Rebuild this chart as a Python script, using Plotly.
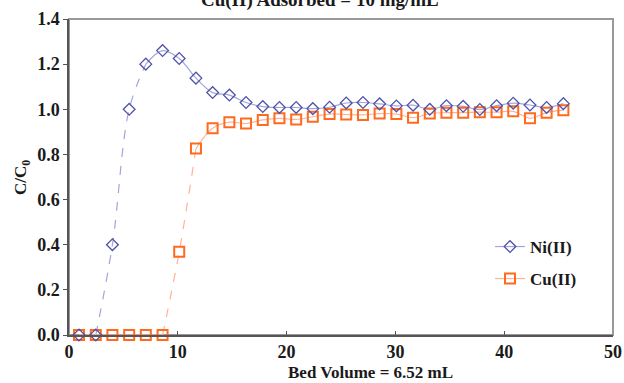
import plotly.graph_objects as go

bed_volume = [0.92, 2.46, 3.99, 5.53, 7.06, 8.60, 10.13, 11.67, 13.20, 14.74,
              16.27, 17.81, 19.34, 20.88, 22.41, 23.95, 25.48, 27.02, 28.55, 30.09,
              31.62, 33.16, 34.69, 36.23, 37.76, 39.30, 40.83, 42.37, 43.90, 45.44]
ni = [0.0, 0.0, 0.40, 1.00, 1.20, 1.26, 1.225, 1.138, 1.074, 1.063,
      1.030, 1.012, 1.008, 1.008, 1.003, 1.009, 1.028, 1.030, 1.024, 1.015,
      1.018, 1.000, 1.016, 1.013, 0.999, 1.016, 1.027, 1.019, 1.008, 1.025]
cu = [0.0, 0.0, 0.0, 0.0, 0.0, 0.0, 0.369, 0.826, 0.916, 0.943,
      0.937, 0.953, 0.960, 0.955, 0.967, 0.979, 0.977, 0.975, 0.981, 0.979,
      0.963, 0.981, 0.985, 0.985, 0.987, 0.987, 0.991, 0.960, 0.985, 0.996]
x_ticks = [0, 10, 20, 30, 40, 50]
y_ticks = [0.0, 0.2, 0.4, 0.6, 0.8, 1.0, 1.2, 1.4]

NI_M, NI_L = "#4f52a8", "#a3a5d9"
CU_M, CU_L = "#ff6a1f", "#ffb396"
FONT = "Liberation Serif"
TXT = "#1a1a1a"

fig = go.Figure()

def seg(x, y, a, b, color, dash):
    fig.add_trace(go.Scatter(x=x[a:b + 1], y=y[a:b + 1], mode="lines",
                             line=dict(color=color, width=1.2, shape="spline", dash=dash),
                             showlegend=False, hoverinfo="skip", cliponaxis=False))

# Ni(II) line segments
seg(bed_volume, ni, 0, 1, NI_L, "solid")
seg(bed_volume, ni, 1, 4, NI_L, "dash")
seg(bed_volume, ni, 4, 29, NI_L, "solid")
# Cu(II) line segments
seg(bed_volume, cu, 0, 5, CU_L, "solid")
seg(bed_volume, cu, 5, 7, CU_L, "dash")
seg(bed_volume, cu, 7, 29, CU_L, "solid")

# markers
fig.add_trace(go.Scatter(x=bed_volume, y=cu, mode="markers", showlegend=False, cliponaxis=False,
                         marker=dict(symbol="square-open", size=10, color=CU_M, line=dict(width=2, color=CU_M))))
fig.add_trace(go.Scatter(x=bed_volume, y=ni, mode="markers", showlegend=False, cliponaxis=False,
                         marker=dict(symbol="diamond-open", size=9, color=NI_M, line=dict(width=1.3, color=NI_M))))

# legend entries
fig.add_trace(go.Scatter(x=[None], y=[None], mode="lines+markers", name="Ni(II)", legend="legend",
                         line=dict(color=NI_L, width=1.2),
                         marker=dict(symbol="diamond-open", size=9, color=NI_M, line=dict(width=1.3, color=NI_M))))
fig.add_trace(go.Scatter(x=[None], y=[None], mode="lines+markers", name="Cu(II)", legend="legend2",
                         line=dict(color=CU_L, width=1.2),
                         marker=dict(symbol="square-open", size=10, color=CU_M, line=dict(width=2, color=CU_M))))

leg_common = dict(xanchor="left", yanchor="middle",
                  font=dict(family=FONT, size=17, weight="bold", color=TXT),
                  bgcolor="rgba(0,0,0,0)", itemwidth=30)

fig.update_layout(
    width=624, height=383,
    margin=dict(l=69, r=11, t=19, b=48, autoexpand=False),
    paper_bgcolor="white", plot_bgcolor="white",
    font=dict(family=FONT, color=TXT),
    showlegend=True,
    legend=dict(x=(490 - 69) / 544, y=(335 - 247) / 316, **leg_common),
    legend2=dict(x=(490 - 69) / 544, y=(335 - 279) / 316, **leg_common),
    shapes=[dict(type="rect", xref="paper", yref="paper", x0=0, y0=0, x1=1, y1=1,
                 line=dict(color="#999999", width=2), layer="below")],
    annotations=[
        dict(text="Cu(II) Adsorbed = 10 mg/mL", xref="paper", yref="paper",
             x=(320 - 69) / 544, y=(335 - 0) / 316, xanchor="center", yanchor="middle",
             showarrow=False, font=dict(family=FONT, size=19, weight="bold", color=TXT)),
        dict(text="Bed Volume = 6.52 mL", xref="paper", yref="paper",
             x=(370 - 69) / 544, y=-(372 - 335) / 316, xanchor="center", yanchor="middle",
             showarrow=False, font=dict(family=FONT, size=17, weight="bold", color=TXT)),
        dict(text="C/C<sub>0</sub>", xref="paper", yref="paper", textangle=-90,
             x=-(69 - 22) / 544, y=(335 - 178) / 316, xanchor="center", yanchor="middle",
             showarrow=False, font=dict(family=FONT, size=17, weight="bold", color=TXT)),
    ],
)
fig.update_xaxes(range=[0, 50], tickvals=x_ticks, ticktext=[str(v) for v in x_ticks],
                 ticks="inside", ticklen=4, tickcolor="#555555", showgrid=False, zeroline=False,
                 showline=True, linecolor="#555555", linewidth=1.5, automargin=False,
                 tickfont=dict(family=FONT, size=18, weight="bold", color=TXT))
fig.update_yaxes(range=[0, 1.4], tickvals=y_ticks, ticktext=[f"{v:.1f}" for v in y_ticks],
                 ticks="outside", ticklen=4, tickcolor="#555555", showgrid=False, zeroline=False,
                 showline=True, linecolor="#555555", linewidth=1.5, automargin=False,
                 tickfont=dict(family=FONT, size=18, weight="bold", color=TXT))

fig.write_html("out.html", config={"displayModeBar": False},
               post_script="document.body.style.margin='0';document.body.style.overflow='hidden';")
